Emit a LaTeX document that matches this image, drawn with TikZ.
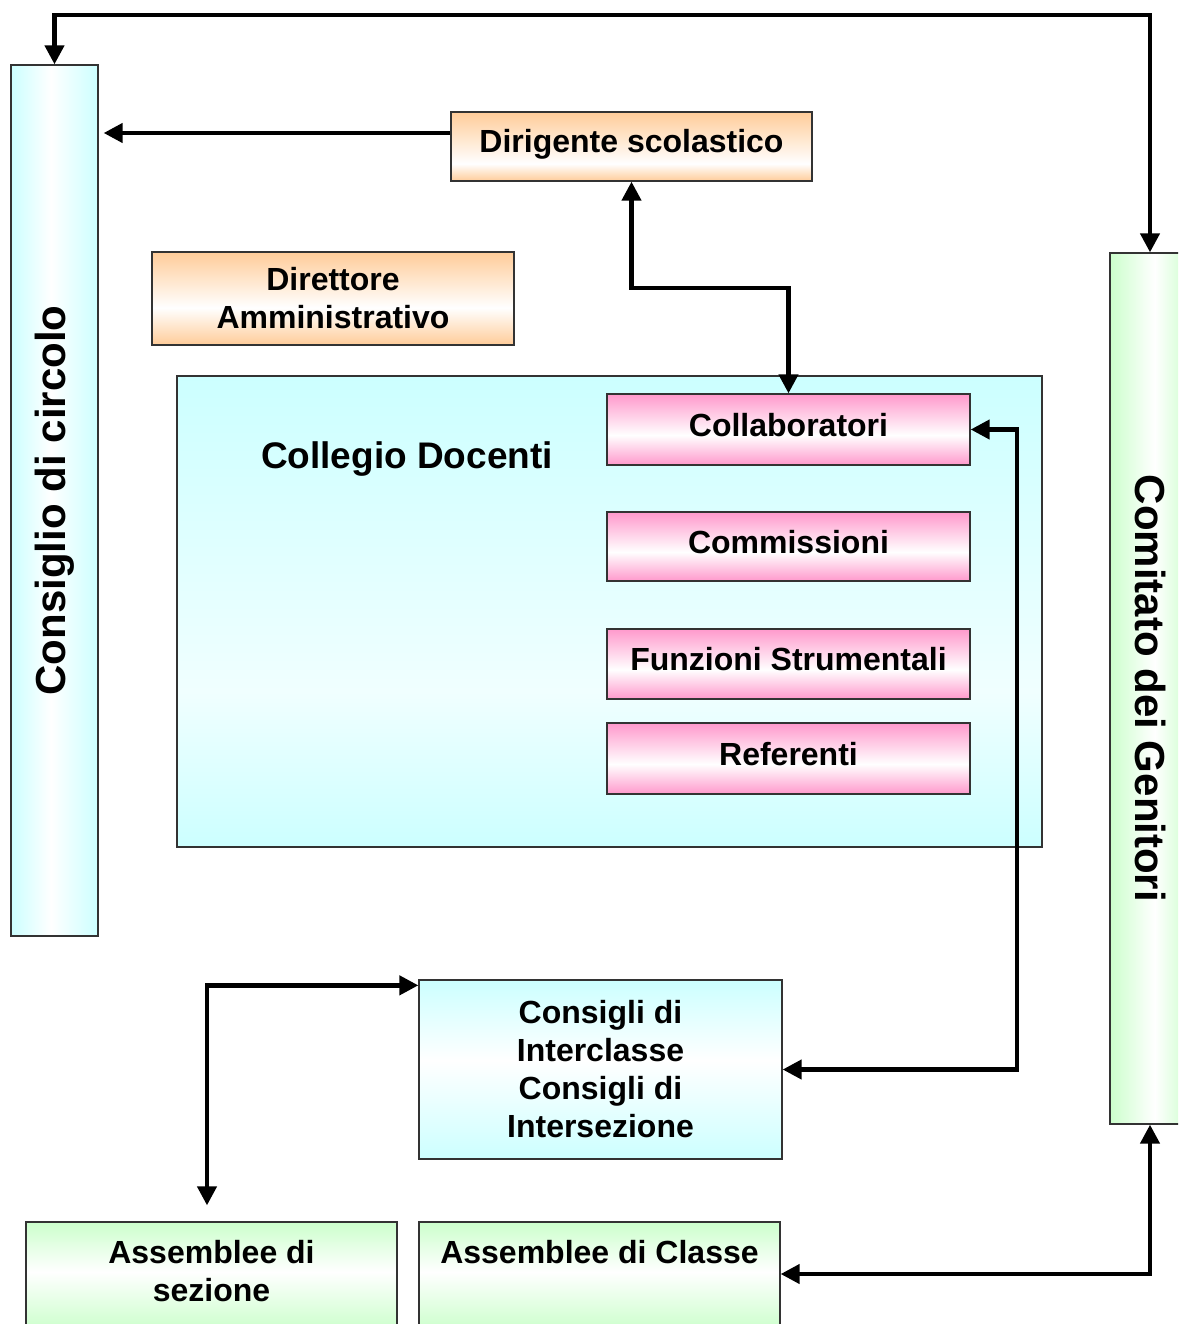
\documentclass[tikz,border=0pt]{standalone}
\usepackage{fontspec}
\setmainfont{Liberation Sans}
\usepackage{graphicx}
\usetikzlibrary{arrows.meta}
\definecolor{orangeC}{HTML}{FFCC99}
\definecolor{pinkC}{HTML}{FF99CC}
\definecolor{cyanC}{HTML}{CCFFFF}
\definecolor{cyanL}{HTML}{F0FFFF}
\definecolor{greenC}{HTML}{CCFFCC}
\definecolor{edgeC}{HTML}{333333}
\pgfdeclareverticalshading{shDS}{100bp}{color(0bp)=(orangeC); color(25bp)=(orangeC); color(37.5bp)=(white); color(75bp)=(orangeC); color(100bp)=(orangeC)}
\pgfdeclareverticalshading{shDA}{100bp}{color(0bp)=(orangeC); color(25bp)=(orangeC); color(45bp)=(white); color(75bp)=(orangeC); color(100bp)=(orangeC)}
\pgfdeclareverticalshading{shPK}{100bp}{color(0bp)=(pinkC); color(25bp)=(pinkC); color(46bp)=(white); color(75bp)=(pinkC); color(100bp)=(pinkC)}
\pgfdeclareverticalshading{shCD}{100bp}{color(0bp)=(cyanC); color(25bp)=(cyanC); color(41.5bp)=(cyanL); color(75bp)=(cyanC); color(100bp)=(cyanC)}
\pgfdeclareverticalshading{shCO}{100bp}{color(0bp)=(cyanC); color(25bp)=(cyanC); color(52.5bp)=(white); color(75bp)=(cyanC); color(100bp)=(cyanC)}
\pgfdeclareverticalshading{shGV}{100bp}{color(0bp)=(greenC); color(25bp)=(greenC); color(52bp)=(white); color(75bp)=(greenC); color(100bp)=(greenC)}
\pgfdeclarehorizontalshading{shCH}{100bp}{color(0bp)=(cyanC); color(25bp)=(cyanC); color(48bp)=(white); color(75bp)=(cyanC); color(100bp)=(cyanC)}
\pgfdeclarehorizontalshading{shGH}{100bp}{color(0bp)=(greenC); color(25bp)=(greenC); color(53bp)=(white); color(75bp)=(greenC); color(100bp)=(greenC)}
\tikzset{
  boxbase/.style={draw=edgeC, line width=1.3pt, inner sep=0pt, align=center,
    font=\bfseries\fontsize{32}{38}\selectfont},
  oneline/.style={text height=23pt, text depth=10pt},
  sidelabel/.style={boxbase, font=\bfseries\fontsize{42}{50}\selectfont},
  tip/.style={},
  arr/.style={line width=4.3pt, -{Triangle[length=19pt,width=19pt]}},
  dbl/.style={line width=4.3pt, {Triangle[length=19pt,width=19pt]}-{Triangle[length=19pt,width=19pt]}},
}
\begin{document}
\begin{tikzpicture}[x=1pt,y=-1pt]
\useasboundingbox (0,0) rectangle (1178,1324);
\fill[white] (0,0) rectangle (1178,1324);
\clip (0,0) rectangle (1178,1324);
% side columns
\node[sidelabel, shading=shCH, minimum width=87pt, minimum height=871pt] (cc) at (54.5,500.5) {\rotatebox{90}{Consiglio di circolo}};
\node[sidelabel, shading=shGH, minimum width=80pt, minimum height=871pt] (cg) at (1150,688.5) {\rotatebox{-90}{Comitato dei Genitori}};
% top boxes
\node[boxbase, oneline, shading=shDS, minimum width=361pt, minimum height=69pt] (ds) at (631.5,146.5) {Dirigente scolastico};
\node[boxbase, shading=shDA, minimum width=362pt, minimum height=93pt] (da) at (333,298.5) {Direttore\\Amministrativo};
% collegio
\node[boxbase, shading=shCD, minimum width=865pt, minimum height=471pt] (cd) at (609.5,611.5) {};
\node[font=\bfseries\fontsize{37}{42}\selectfont, anchor=base, inner sep=0pt] (cdt) at (407,468) {Collegio Docenti};
\node[boxbase, oneline, shading=shPK, minimum width=363pt, minimum height=71pt] (col) at (788.5,429.5) {Collaboratori};
\node[boxbase, oneline, shading=shPK, minimum width=363pt, minimum height=69pt] (com) at (788.5,546.5) {Commissioni};
\node[boxbase, oneline, shading=shPK, minimum width=363pt, minimum height=70pt] (fs) at (788.5,664) {Funzioni Strumentali};
\node[boxbase, oneline, shading=shPK, minimum width=363pt, minimum height=71pt] (ref) at (788.5,758.5) {Referenti};
% lower boxes
\node[boxbase, shading=shCO, minimum width=363pt, minimum height=179pt] (cons) at (600.5,1069.5) {Consigli di\\Interclasse\\Consigli di\\Intersezione};
\node[boxbase, shading=shGV, minimum width=371pt, minimum height=108pt] (as) at (211.5,1276) {Assemblee di\\sezione\rule[-10pt]{0pt}{10pt}};
\node[boxbase, shading=shGV, minimum width=361pt, minimum height=108pt, text height=23pt, text depth=49pt] (ac) at (599.5,1276) {Assemblee di Classe};
% connectors
\coordinate (topY) at (0,15);
\coordinate (m1) at (0,288);
\coordinate (m2) at (1017,0);
\draw[dbl] (cc.north) -- (cc.north |- topY) -| (cg.north);
\draw[arr, shorten >=5pt] ([yshift=13.5pt]ds.west) -- ([yshift=13.5pt]ds.west -| cc.east);
\draw[dbl] (ds.south) -- (ds.south |- m1) -| (col.north);
\draw[dbl] (col.east) -- (col.east -| m2) |- (cons.east);
\draw[dbl, shorten >=16pt] ([yshift=-6pt]cons.north west) -| ([xshift=-4.5pt]as.north);
\draw[dbl] ([yshift=2pt]ac.east) -| (cg.south);
\end{tikzpicture}
\end{document}
